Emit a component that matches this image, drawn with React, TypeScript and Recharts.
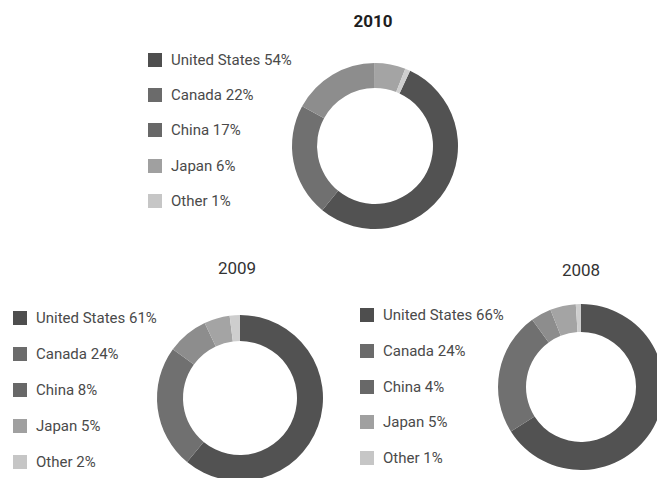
import React from 'react';
import { PieChart, Pie, Cell, Legend } from 'recharts';

const COUNTRIES = ['United States', 'Canada', 'China', 'Japan', 'Other'];
const SHARE_2010 = [54, 22, 17, 6, 1];
const SHARE_2009 = [61, 24, 8, 5, 2];
const SHARE_2008 = [66, 24, 4, 5, 1];

const SLICE_COLORS = ['#525252', '#707070', '#8d8d8d', '#a4a4a4', '#cecece'];
const KEY_COLORS = ['#4e4e4e', '#6b6b6b', '#686868', '#a0a0a0', '#c6c6c6'];

const FONT = 'Roboto, "DejaVu Sans", sans-serif';

interface DonutProps {
  year: string;
  shares: number[];
  left: number;
  top: number;
  width: number;
  height: number;
  cx: number;
  cy: number;
  innerRadius: number;
  outerRadius: number;
  startAngle: number;
  legendX: number;
  legendRows: number[];
  titleX: number;
  titleY: number;
  titleBold?: boolean;
}

const Donut: React.FC<DonutProps> = (p) => {
  const data = COUNTRIES.map((name, i) => ({ name, value: p.shares[i] }));

  const renderLegend = () => (
    <div style={{ position: 'relative', width: 170, height: p.height }}>
      {data.map((d, i) => (
        <div
          key={d.name}
          style={{
            position: 'absolute',
            left: 0,
            top: p.legendRows[i] - 8,
            height: 16,
            display: 'flex',
            alignItems: 'center',
            whiteSpace: 'nowrap',
          }}
        >
          <span style={{ display: 'inline-block', width: 14, height: 14, background: KEY_COLORS[i], marginRight: 9 }} />
          <span style={{ fontFamily: FONT, fontSize: 15, color: '#4a4a4a' }}>{`${d.name} ${d.value}%`}</span>
        </div>
      ))}
    </div>
  );

  return (
    <div style={{ position: 'absolute', left: p.left, top: p.top, width: p.width, height: p.height }}>
      <div
        style={{
          position: 'absolute',
          left: p.titleX - 40,
          top: p.titleY - 11,
          width: 80,
          textAlign: 'center',
          fontFamily: FONT,
          fontSize: 17,
          lineHeight: '22px',
          fontWeight: p.titleBold ? 700 : 400,
          color: p.titleBold ? '#1e1e1e' : '#333',
        }}
      >
        {p.year}
      </div>
      <PieChart width={p.width} height={p.height} margin={{ top: 0, right: 0, bottom: 0, left: 0 }}>
        <Pie
          data={data}
          dataKey="value"
          nameKey="name"
          cx={p.cx}
          cy={p.cy}
          innerRadius={p.innerRadius}
          outerRadius={p.outerRadius}
          startAngle={p.startAngle}
          endAngle={p.startAngle - 360}
          stroke="none"
          isAnimationActive={false}
        >
          {data.map((d, i) => (
            <Cell key={`cell-${d.name}`} fill={SLICE_COLORS[i]} />
          ))}
        </Pie>
        <Legend
          content={renderLegend}
          wrapperStyle={{ position: 'absolute', left: p.legendX, top: 0, width: 170, height: p.height }}
        />
      </PieChart>
    </div>
  );
};

export default function App() {
  return (
    <div style={{ position: 'absolute', left: 0, top: 0, width: 657, height: 478, background: '#fff', overflow: 'hidden' }}>
      <Donut
        year="2010"
        shares={SHARE_2010}
        left={130}
        top={0}
        width={340}
        height={240}
        cx={245}
        cy={146}
        innerRadius={58}
        outerRadius={83}
        startAngle={65}
        legendX={18}
        legendRows={[60, 95, 130, 166, 201]}
        titleX={243}
        titleY={21}
        titleBold
      />
      <Donut
        year="2009"
        shares={SHARE_2009}
        left={0}
        top={250}
        width={340}
        height={228}
        cx={240}
        cy={148}
        innerRadius={57}
        outerRadius={83}
        startAngle={90}
        legendX={13}
        legendRows={[68, 104, 140, 176, 212]}
        titleX={237}
        titleY={18}
      />
      <Donut
        year="2008"
        shares={SHARE_2008}
        left={350}
        top={250}
        width={307}
        height={228}
        cx={231}
        cy={137}
        innerRadius={55}
        outerRadius={83}
        startAngle={90}
        legendX={10}
        legendRows={[65, 101, 137, 172, 208]}
        titleX={231}
        titleY={20}
      />
    </div>
  );
}
